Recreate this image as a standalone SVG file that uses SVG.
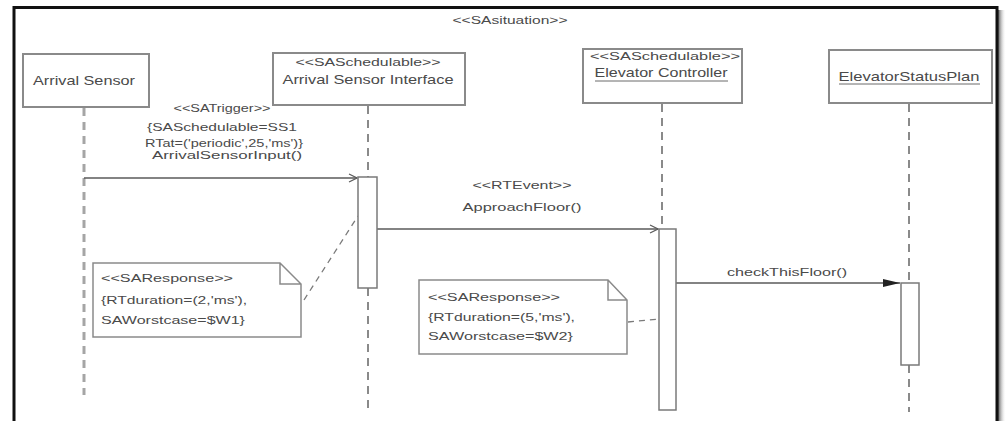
<svg xmlns="http://www.w3.org/2000/svg" width="1006" height="421" viewBox="0 0 1006 421">
<style>
.t{font-family:"Liberation Sans",Arial,sans-serif;fill:#4a4a4a}
.n{font-size:13px}
.s{font-size:10px}
.m{font-size:11px}
.box{fill:#fff;stroke:#8a8a8a;stroke-width:2}
.act{fill:#fff;stroke:#7a7a7a;stroke-width:1.5}
.life{fill:none;stroke:#8a8a8a;stroke-width:2;stroke-dasharray:8 6}
.msg{fill:none;stroke:#5a5a5a;stroke-width:1.5}
.anc{fill:none;stroke:#7a7a7a;stroke-width:1.3;stroke-dasharray:6 5}
.ul{stroke:#6a6a6a;stroke-width:1}
</style>
<defs>
<marker id="open" markerWidth="10" markerHeight="10" refX="9" refY="5" orient="auto" markerUnits="userSpaceOnUse">
<path d="M1,1 L9,5 L1,9" fill="none" stroke="#5a5a5a" stroke-width="1.2"/>
</marker>
<marker id="fill" markerWidth="18" markerHeight="10" refX="17" refY="5" orient="auto" markerUnits="userSpaceOnUse">
<path d="M0,1 L17,5 L0,9 Z" fill="#222" stroke="none"/>
</marker>
<linearGradient id="sh" x1="0" x2="1" y1="0" y2="0">
<stop offset="0" stop-color="#555"/>
<stop offset="1" stop-color="#fff" stop-opacity="0"/>
</linearGradient>
</defs>
<rect x="0" y="0" width="1006" height="421" fill="#fff"/>
<g id="frame">
<rect x="998" y="10" width="8" height="411" fill="url(#sh)"/>
<path d="M14,430 L14,7.5 L997,7.5 L997,430" fill="none" stroke="#111" stroke-width="3"/>
<text class="t s" x="510" y="24" text-anchor="middle" textLength="115" lengthAdjust="spacingAndGlyphs">&lt;&lt;SAsituation&gt;&gt;</text>
</g>
<g id="connectors">
<path class="life" d="M84,108 V395" style="stroke:#a5a5a5;stroke-width:3"/>
<path class="life" d="M368,106 V177 M368,288 V410"/>
<path class="life" d="M662,104 V229"/>
<path class="life" d="M909,104 V283 M909,365 V412"/>
<path class="msg" d="M84,178 H357" marker-end="url(#open)"/>
<path class="msg" d="M377,229 H658" marker-end="url(#open)"/>
<path class="msg" d="M676,283 H900" marker-end="url(#fill)"/>
<path class="anc" d="M304,300 L358,216"/>
<path class="anc" d="M628,322 L659,319"/>
<text class="t s" x="222" y="112" text-anchor="middle" textLength="97" lengthAdjust="spacingAndGlyphs">&lt;&lt;SATrigger&gt;&gt;</text>
<text class="t m" x="222" y="131" text-anchor="middle" textLength="150" lengthAdjust="spacingAndGlyphs">{SASchedulable=SS1</text>
<text class="t m" x="224" y="147" text-anchor="middle" textLength="158" lengthAdjust="spacingAndGlyphs">RTat=('periodic',25,'ms')}</text>
<text class="t s" x="227" y="159" text-anchor="middle" textLength="150" lengthAdjust="spacingAndGlyphs">ArrivalSensorInput()</text>
<text class="t s" x="522" y="189" text-anchor="middle" textLength="99" lengthAdjust="spacingAndGlyphs">&lt;&lt;RTEvent&gt;&gt;</text>
<text class="t m" x="522" y="211" text-anchor="middle" textLength="119" lengthAdjust="spacingAndGlyphs">ApproachFloor()</text>
<text class="t m" x="787" y="276" text-anchor="middle" textLength="120" lengthAdjust="spacingAndGlyphs">checkThisFloor()</text>
</g>
<g id="arrival-sensor">
<rect class="box" x="23" y="54" width="126" height="53"/>
<text class="t n" x="84" y="85" text-anchor="middle" textLength="102" lengthAdjust="spacingAndGlyphs">Arrival Sensor</text>
</g>
<g id="arrival-sensor-interface">
<rect class="box" x="273" y="53" width="192" height="52"/>
<text class="t s" x="368" y="66" text-anchor="middle" textLength="145" lengthAdjust="spacingAndGlyphs">&lt;&lt;SASchedulable&gt;&gt;</text>
<text class="t n" x="368" y="84" text-anchor="middle" textLength="171" lengthAdjust="spacingAndGlyphs">Arrival Sensor Interface</text>
<rect class="act" x="358" y="177" width="19" height="111"/>
</g>
<g id="elevator-controller">
<rect class="box" x="583" y="49" width="159" height="54"/>
<text class="t s" x="665" y="60" text-anchor="middle" textLength="150" lengthAdjust="spacingAndGlyphs">&lt;&lt;SASchedulable&gt;&gt;</text>
<text class="t n" x="661" y="77" text-anchor="middle" textLength="133" lengthAdjust="spacingAndGlyphs">Elevator Controller</text>
<line class="ul" x1="595" y1="81" x2="728" y2="81"/>
<rect class="act" x="659" y="229" width="17" height="181"/>
</g>
<g id="elevator-status-plan">
<rect class="box" x="829" y="50" width="163" height="53"/>
<text class="t n" x="909" y="81" text-anchor="middle" textLength="141" lengthAdjust="spacingAndGlyphs">ElevatorStatusPlan</text>
<line class="ul" x1="839" y1="84" x2="980" y2="84"/>
<rect class="act" x="901" y="283" width="18" height="82"/>
</g>
<g id="note-1">
<path class="box" d="M93,263 H280 L301,284 V337 H93 Z M280,263 V284 H301" style="stroke-width:1.5"/>
<text class="t s" x="101" y="282" textLength="132" lengthAdjust="spacingAndGlyphs">&lt;&lt;SAResponse&gt;&gt;</text>
<text class="t m" x="101" y="304" textLength="146" lengthAdjust="spacingAndGlyphs">{RTduration=(2,'ms'),</text>
<text class="t m" x="101" y="324" textLength="144" lengthAdjust="spacingAndGlyphs">SAWorstcase=$W1}</text>
</g>
<g id="note-2">
<path class="box" d="M419,280 H608 L627,300 V354 H419 Z M608,280 V300 H627" style="stroke-width:1.5"/>
<text class="t s" x="428" y="301" textLength="132" lengthAdjust="spacingAndGlyphs">&lt;&lt;SAResponse&gt;&gt;</text>
<text class="t m" x="428" y="321" textLength="147" lengthAdjust="spacingAndGlyphs">{RTduration=(5,'ms'),</text>
<text class="t m" x="428" y="340" textLength="145" lengthAdjust="spacingAndGlyphs">SAWorstcase=$W2}</text>
</g>
</svg>
